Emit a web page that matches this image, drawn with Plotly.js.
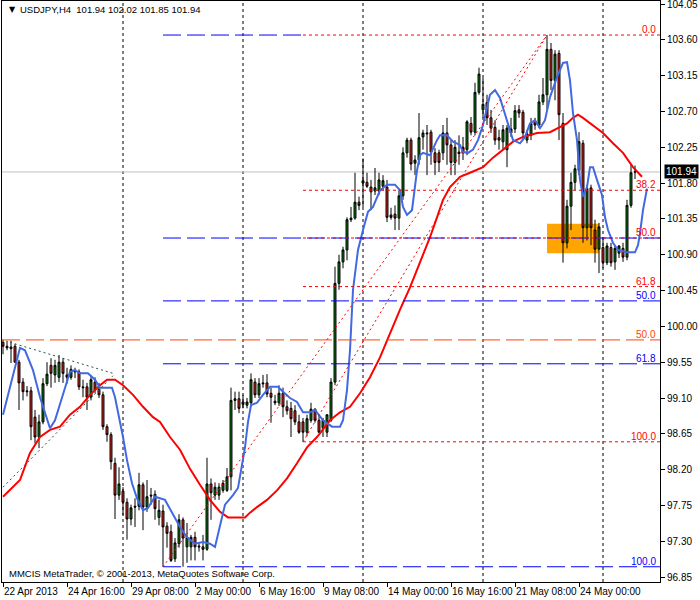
<!DOCTYPE html>
<html><head><meta charset="utf-8">
<script src="https://cdn.plot.ly/plotly-3.0.1.min.js"></script>
<style>html,body{margin:0;padding:0;background:#fff}</style>
</head><body><div id="chart" style="width:700px;height:600px"></div>
<script>
const symbolTitle = "USDJPY,H4  101.94 102.02 101.85 101.94";
const copyright = "MMCIS MetaTrader, \u00a9 2001-2013, MetaQuotes Software Corp.";
const tickBars = [0, 16, 32, 48, 64, 80, 96, 112, 128, 144];
const tickLabels = ["22 Apr 2013", "24 Apr 16:00", "29 Apr 08:00", "2 May 00:00", "6 May 16:00",
  "9 May 08:00", "14 May 00:00", "16 May 16:00", "21 May 08:00", "24 May 00:00"];
const gridBars = [30, 60, 90, 120, 150];

const open = [
99.80, 99.75, 99.74, 99.75, 99.55, 99.30, 99.19, 99.19, 98.86, 98.61,
98.80, 99.28, 99.51, 99.39, 99.36, 99.55, 99.39, 99.36, 99.44, 99.43,
99.24, 99.24, 99.11, 99.30, 99.21, 99.14, 98.74, 98.64, 98.28, 97.88,
97.93, 97.79, 97.58, 97.74, 97.74, 98.01, 97.73, 97.88, 97.89, 97.60,
97.68, 97.49, 97.42, 97.08, 97.27, 97.57, 97.23, 97.23, 97.35, 97.24,
97.23, 97.20, 98.02, 97.88, 97.88, 97.94, 97.94, 98.11, 99.09, 99.09,
99.05, 99.01, 99.04, 99.30, 99.14, 99.29, 99.29, 99.16, 99.06, 99.04,
99.16, 98.99, 98.97, 98.94, 98.80, 98.80, 98.67, 98.82, 98.96, 98.82,
98.72, 98.67, 98.82, 99.30, 100.54, 100.81, 100.96, 101.34, 101.36, 101.56,
101.80, 101.81, 101.75, 101.70, 101.70, 101.76, 101.75, 101.40, 101.41, 101.36,
101.64, 102.18, 102.34, 102.05, 102.09, 102.38, 102.43, 102.44, 102.18, 102.18,
102.18, 102.43, 102.28, 102.06, 102.19, 102.18, 102.22, 102.55, 102.44, 102.94,
102.72, 102.81, 102.62, 102.50, 102.37, 102.32, 102.22, 102.43, 102.48, 102.72,
102.69, 102.34, 102.40, 102.57, 102.53, 102.82, 102.91, 103.48, 103.09, 103.43,
102.55, 101.05, 101.51, 101.81, 101.96, 102.30, 101.24, 101.74, 101.21, 100.97,
100.99, 100.80, 100.99, 100.81, 100.92, 100.98, 100.87, 101.52, 101.94];
const high = [
99.83, 99.82, 99.82, 99.78, 99.58, 99.35, 99.25, 99.24, 98.95, 98.89,
99.35, 99.55, 99.60, 99.58, 99.64, 99.60, 99.48, 99.51, 99.48, 99.46,
99.33, 99.29, 99.38, 99.36, 99.29, 99.18, 98.77, 98.67, 98.35, 98.23,
97.98, 97.84, 97.76, 97.84, 98.16, 98.04, 98.07, 97.97, 97.94, 97.82,
97.76, 97.54, 97.51, 97.34, 97.64, 97.60, 97.53, 97.38, 97.42, 97.29,
97.38, 98.35, 98.09, 98.04, 98.03, 98.07, 98.22, 99.23, 99.18, 99.18,
99.14, 99.10, 99.41, 99.35, 99.35, 99.39, 99.40, 99.23, 99.14, 99.26,
99.23, 99.07, 99.05, 99.01, 98.89, 98.85, 98.89, 99.04, 98.97, 98.89,
98.85, 98.89, 99.35, 100.75, 100.90, 101.00, 101.37, 101.50, 101.93, 101.63,
102.11, 101.93, 101.84, 101.99, 101.93, 101.90, 101.84, 101.49, 101.52, 101.71,
102.25, 102.37, 102.37, 102.15, 102.68, 102.47, 102.53, 102.47, 102.24, 102.22,
102.53, 102.62, 102.34, 102.34, 102.40, 102.38, 102.59, 102.63, 103.06, 103.25,
103.12, 102.91, 102.72, 102.59, 102.47, 102.53, 102.53, 102.62, 102.78, 102.78,
102.72, 102.47, 102.62, 102.62, 102.91, 103.12, 103.66, 103.56, 103.47, 103.47,
102.68, 101.59, 101.93, 102.03, 102.44, 102.34, 101.78, 101.78, 101.34, 101.30,
101.12, 101.05, 101.05, 101.02, 101.02, 101.05, 101.59, 102.03, 102.02];
const low = [
99.65, 99.70, 99.54, 99.54, 98.95, 99.07, 99.12, 98.57, 98.53, 98.47,
98.77, 99.25, 99.23, 99.29, 99.30, 99.29, 99.28, 99.33, 99.35, 99.20,
99.11, 98.95, 99.07, 99.16, 99.10, 98.70, 98.55, 98.20, 97.58, 97.82,
97.63, 97.32, 97.50, 97.48, 97.69, 97.44, 97.67, 97.76, 97.57, 97.50,
96.98, 97.22, 97.04, 97.04, 97.22, 96.98, 97.03, 97.06, 97.06, 97.17,
97.06, 97.18, 97.57, 97.82, 97.82, 97.91, 97.92, 97.94, 98.95, 98.91,
98.97, 98.97, 98.99, 99.10, 99.10, 99.23, 99.11, 98.79, 99.01, 99.00,
98.86, 98.89, 98.61, 98.76, 98.65, 98.55, 98.62, 98.79, 98.79, 98.66,
98.61, 98.61, 98.80, 99.26, 100.46, 100.73, 100.83, 101.31, 101.34, 101.46,
101.50, 101.74, 101.46, 101.65, 101.65, 101.71, 101.31, 101.34, 101.21, 101.21,
101.59, 102.12, 101.96, 101.90, 102.03, 102.22, 101.90, 102.03, 101.90, 101.94,
102.09, 102.03, 101.90, 101.90, 102.03, 102.09, 102.15, 102.40, 102.40, 102.91,
102.62, 102.53, 102.43, 102.28, 102.22, 102.22, 102.00, 102.38, 102.43, 102.62,
102.34, 102.30, 102.34, 102.47, 102.49, 102.78, 102.72, 102.97, 102.84, 102.34,
100.80, 100.98, 101.21, 101.71, 101.90, 101.05, 101.08, 101.02, 100.80, 100.67,
100.73, 100.77, 100.75, 100.71, 100.86, 100.81, 100.83, 101.49, 101.85];
const close = [
99.75, 99.73, 99.72, 99.55, 99.29, 99.18, 99.18, 98.74, 98.61, 98.80,
99.28, 99.40, 99.41, 99.51, 99.55, 99.41, 99.36, 99.46, 99.43, 99.24,
99.23, 99.11, 99.33, 99.20, 99.14, 98.74, 98.64, 98.30, 97.88, 98.02,
97.79, 97.58, 97.72, 97.73, 98.01, 97.73, 97.86, 97.87, 97.71, 97.69,
97.48, 97.40, 97.06, 97.28, 97.57, 97.34, 97.35, 97.35, 97.23, 97.23,
97.20, 98.02, 97.91, 97.98, 97.98, 98.03, 98.11, 99.07, 99.07, 98.97,
99.02, 99.05, 99.33, 99.14, 99.28, 99.28, 99.15, 99.11, 99.04, 99.16,
98.99, 98.94, 98.84, 98.80, 98.67, 98.67, 98.84, 98.96, 98.82, 98.67,
98.82, 98.89, 99.30, 100.54, 100.81, 100.96, 101.34, 101.36, 101.56, 101.52,
101.83, 101.76, 101.69, 101.74, 101.84, 101.83, 101.37, 101.37, 101.36, 101.64,
102.18, 102.34, 102.04, 102.09, 102.37, 102.43, 102.42, 102.19, 102.06, 102.06,
102.43, 102.28, 102.06, 102.25, 102.17, 102.25, 102.57, 102.44, 102.94, 103.17,
102.79, 102.62, 102.49, 102.34, 102.34, 102.47, 102.49, 102.48, 102.71, 102.68,
102.43, 102.42, 102.55, 102.53, 102.82, 102.91, 103.48, 103.09, 103.42, 102.66,
101.05, 101.51, 101.81, 101.98, 102.32, 101.24, 101.73, 101.24, 100.97, 101.25,
100.80, 101.01, 100.80, 100.98, 101.01, 100.87, 101.52, 101.93, 101.94];

const blueMaX = [0, 4.25, 5.5, 7.5, 9.25, 11, 11.75, 13, 15, 16.75, 18, 19.25, 21.25, 23, 24.25, 27.25, 28, 29.25, 30, 31,
  32.25, 33.5, 35, 36.25, 38, 40.5, 41.75, 43, 44.25, 46, 48, 50, 51.75, 53, 54.25, 55.5, 57.5, 58.75, 59.75, 60.5,
  61.25, 62, 63.5, 65, 66.75, 68.75, 70, 71.75, 73.5, 75, 76.75, 78, 80, 82.25, 84.25, 85, 86, 86.75, 87.5, 88.75,
  90, 91.25, 92.5, 94.25, 96, 98, 99.25, 100, 101, 102.25, 103.5, 104.25, 105, 106.75, 108.5, 109.25, 111, 112.5, 114.25, 115,
  116.25, 117.5, 118.75, 120, 121.75, 123, 124.25, 126, 127.5, 129.25, 130.5, 131.75, 133, 134.25, 135.5, 136.75, 138.5, 140, 141, 141.75,
  142.5, 143.5, 144.25, 145, 146, 146.75, 147.5, 148.5, 149.75, 150.5, 151.25, 152.5, 153.75, 156, 158, 158.75, 159.25, 160, 161];
const blueMaY = [98.89, 99.73, 99.70, 99.45, 99.11, 98.85, 98.72, 98.82, 99.16, 99.43, 99.45, 99.41, 99.41, 99.33, 99.23, 99.23, 99.11, 98.82, 98.61, 98.32,
  98.03, 97.84, 97.69, 97.72, 97.86, 97.82, 97.71, 97.59, 97.48, 97.35, 97.27, 97.29, 97.27, 97.23, 97.48, 97.76, 97.88, 97.97, 98.26, 98.48,
  98.80, 99.01, 99.04, 99.14, 99.24, 99.24, 99.18, 99.10, 99.05, 98.92, 98.92, 98.95, 98.82, 98.74, 98.74, 98.82, 99.20, 99.70, 100.46, 100.96,
  101.21, 101.44, 101.50, 101.71, 101.78, 101.78, 101.71, 101.50, 101.40, 101.46, 101.96, 102.15, 102.18, 102.15, 102.34, 102.40, 102.40, 102.32, 102.28, 102.19,
  102.18, 102.22, 102.34, 102.53, 102.91, 102.97, 102.87, 102.59, 102.34, 102.30, 102.38, 102.55, 102.59, 102.49, 102.59, 102.88, 103.13, 103.31, 103.32, 103.09,
  102.68, 102.34, 101.84, 101.63, 101.75, 102.00, 102.00, 101.84, 101.65, 101.37, 101.21, 101.05, 100.96, 100.93, 100.93, 101.02, 101.17, 101.46, 101.73];
const redMaX = [0, 4.25, 6.75, 9.25, 11.75, 14.25, 16.75, 19.25, 21.75, 24.25, 26, 28, 30, 32.5, 35, 37.5, 39.25, 41.75, 44.25, 46.75,
  49.25, 51.75, 54.25, 56.25, 60.5, 61.75, 63.5, 66, 68.5, 71, 73.5, 76, 78.5, 81.75, 84.25, 86.75, 89.25, 91.75, 94.25, 96.75,
  99.25, 101.75, 104.25, 106.75, 108.5, 110, 111.75, 114.25, 116.75, 120, 122.5, 125, 127.5, 130, 133.5, 136.75, 139.25, 141, 142.5, 143.75,
  145, 147.5, 150, 152.5, 155, 157.5, 159.75];
const redMaY = [97.86, 98.07, 98.41, 98.61, 98.70, 98.74, 98.89, 98.99, 99.14, 99.26, 99.33, 99.33, 99.26, 99.14, 98.99, 98.86, 98.80, 98.61, 98.45, 98.21,
  98.01, 97.82, 97.67, 97.60, 97.60, 97.66, 97.73, 97.82, 97.94, 98.09, 98.28, 98.48, 98.61, 98.82, 98.92, 98.99, 99.16, 99.36, 99.61, 99.92,
  100.21, 100.49, 100.80, 101.12, 101.37, 101.59, 101.75, 101.88, 101.93, 102.00, 102.12, 102.22, 102.32, 102.38, 102.43, 102.44, 102.50, 102.55, 102.62, 102.66,
  102.62, 102.53, 102.43, 102.30, 102.18, 102.00, 101.88];

const blueFibLabels = ["0.0", "38.2", "50.0", "61.8", "100.0"];
const blueFibPrices = [103.66, 101.11, 100.32, 99.53, 96.98];
const blueFibShowLabel = [false, false, true, true, true];
const blueFibStartBar = 40;
const blueFibZeroEndBar = 75;
const redFibLabels = ["0.0", "38.2", "50.0", "61.8", "100.0"];
const redFibPrices = [103.66, 101.71, 101.11, 100.50, 98.55];
const redFibStartBar = 75;
const orangeFibLabel = "50.0";
const orangeFibPrice = 99.83;
const blueTrendBars = [40, 136], blueTrendPrices = [96.98, 103.66];
const redTrendBars = [75, 136], redTrendPrices = [98.55, 103.66];
const triUpperBars = [1.75, 27.5], triUpperPrices = [99.80, 99.41];
const triLowerBars = [0, 27.5], triLowerPrices = [97.98, 99.38];
const zoneBars = [136, 149], zonePrices = [100.92, 101.29];
const lastPrice = 101.94;

const xRange = [-0.25, 164.25];
const yRange = [96.7886, 104.0877];
const FONT = "Liberation Sans, Arial, sans-serif";
const TXT = 9.5;
const bars = open.map((_, i) => i);

const traces = [
  {type: "candlestick", x: bars, open: open, high: high, low: low, close: close,
   increasing: {fillcolor: "#0b7d0b", line: {color: "#000000", width: 1}},
   decreasing: {fillcolor: "#e8241a", line: {color: "#000000", width: 1}},
   whiskerwidth: 0, hoverinfo: "skip", showlegend: false},
  {type: "scatter", mode: "lines", x: redMaX, y: redMaY, line: {color: "#ff0000", width: 2}, hoverinfo: "skip", showlegend: false},
  {type: "scatter", mode: "lines", x: blueMaX, y: blueMaY, line: {color: "#4169e1", width: 2}, hoverinfo: "skip", showlegend: false}
];

const shapes = [];
gridBars.forEach(b => shapes.push({type: "line", xref: "x", yref: "paper", x0: b, x1: b, y0: 0, y1: 1,
  line: {color: "#000000", width: 1, dash: "3px,3px"}, layer: "below"}));
shapes.push({type: "rect", xref: "x", yref: "y", x0: zoneBars[0], x1: zoneBars[1], y0: zonePrices[0], y1: zonePrices[1],
  fillcolor: "#ffa500", line: {width: 0}, layer: "below"});
shapes.push({type: "line", xref: "x", yref: "y", x0: xRange[0], x1: xRange[1], y0: lastPrice, y1: lastPrice,
  line: {color: "#c0c0c0", width: 1}, layer: "below"});
shapes.push({type: "line", xref: "x", yref: "y", x0: xRange[0], x1: xRange[1], y0: orangeFibPrice, y1: orangeFibPrice,
  line: {color: "#ff4500", width: 1, dash: "18px,6px"}});
blueFibPrices.forEach((p, k) => shapes.push({type: "line", xref: "x", yref: "y",
  x0: blueFibStartBar, x1: k === 0 ? blueFibZeroEndBar : xRange[1], y0: p, y1: p,
  line: {color: "#0000ff", width: 1, dash: "18px,6px"}}));
redFibPrices.forEach(p => shapes.push({type: "line", xref: "x", yref: "y",
  x0: redFibStartBar, x1: xRange[1], y0: p, y1: p, line: {color: "#ff0000", width: 1, dash: "3px,3px"}}));
shapes.push({type: "line", xref: "x", yref: "y", x0: blueTrendBars[0], x1: blueTrendBars[1], y0: blueTrendPrices[0], y1: blueTrendPrices[1],
  line: {color: "#ff0000", width: 1, dash: "2px,3px"}});
shapes.push({type: "line", xref: "x", yref: "y", x0: redTrendBars[0], x1: redTrendBars[1], y0: redTrendPrices[0], y1: redTrendPrices[1],
  line: {color: "#ff0000", width: 1, dash: "2px,3px"}});
shapes.push({type: "line", xref: "x", yref: "y", x0: triUpperBars[0], x1: triUpperBars[1], y0: triUpperPrices[0], y1: triUpperPrices[1],
  line: {color: "#2f4f4f", width: 1, dash: "2px,3px"}});
shapes.push({type: "line", xref: "x", yref: "y", x0: triLowerBars[0], x1: triLowerBars[1], y0: triLowerPrices[0], y1: triLowerPrices[1],
  line: {color: "#2f4f4f", width: 1, dash: "2px,3px"}});

const labelX = 0.9955;
const annotations = [];
function fibLabel(text, price, color) {
  annotations.push({xref: "paper", yref: "y", x: labelX, y: price, text: text, showarrow: false,
    xanchor: "right", yanchor: "bottom", borderpad: 0, yshift: -1, font: {family: FONT, size: 10, color: color}});
}
fibLabel(orangeFibLabel, orangeFibPrice, "#ff4500");
blueFibPrices.forEach((p, k) => { if (blueFibShowLabel[k]) fibLabel(blueFibLabels[k], p, "#0000ff"); });
redFibPrices.forEach((p, k) => fibLabel(redFibLabels[k], p, "#ff0000"));
// x-axis labels, drawn to the right of each tick like MetaTrader
tickBars.forEach((b, k) => annotations.push({xref: "x", yref: "paper", x: b, y: 0, xanchor: "left", yanchor: "top",
  yshift: -3, xshift: 0, showarrow: false, borderpad: 0, text: tickLabels[k], font: {family: FONT, size: 10, color: "#000"}}));
annotations.push({xref: "paper", yref: "paper", x: 0.007, y: 0.986, xanchor: "left", yanchor: "middle", showarrow: false,
  text: "\u25bc", font: {family: "DejaVu Sans", size: 8, color: "#000"}});
annotations.push({xref: "paper", yref: "paper", x: 0.024, y: 0.986, xanchor: "left", yanchor: "middle", showarrow: false,
  text: symbolTitle, font: {family: FONT, size: TXT, color: "#000"}});
annotations.push({xref: "paper", yref: "paper", x: 0.007, y: 0.0145, xanchor: "left", yanchor: "middle", showarrow: false,
  text: copyright, font: {family: FONT, size: TXT, color: "#000"}});
annotations.push({xref: "paper", yref: "y", x: 1, y: lastPrice, xanchor: "left", yanchor: "middle", xshift: 4, showarrow: false,
  text: lastPrice.toFixed(2), bgcolor: "#000000", borderpad: 1, font: {family: FONT, size: 10, color: "#ffffff"}});

const layout = {
  width: 700, height: 600,
  margin: {l: 2, r: 40, t: 1, b: 18, pad: 0},
  paper_bgcolor: "#ffffff", plot_bgcolor: "#ffffff",
  font: {family: FONT, size: 10, color: "#000"},
  showlegend: false,
  xaxis: {range: xRange, tickmode: "array", tickvals: tickBars, ticktext: tickLabels, showticklabels: false,
    ticks: "outside", ticklen: 4,
    tickcolor: "#000", showgrid: false, zeroline: false, showline: true, mirror: true, linecolor: "#000", linewidth: 1,
    rangeslider: {visible: false}, automargin: false, fixedrange: true},
  yaxis: {range: yRange, side: "right", tick0: 96.85, dtick: 0.45, tickformat: ".2f", ticks: "outside", ticklen: 4,
    tickcolor: "#000", showgrid: false, zeroline: false, showline: true, mirror: true, linecolor: "#000", linewidth: 1,
    ticklabeloverflow: "allow", tickfont: {family: FONT, size: 10}, automargin: false, fixedrange: true},
  shapes: shapes,
  annotations: annotations
};
Plotly.newPlot("chart", traces, layout, {displayModeBar: false, staticPlot: true});
</script>
</body></html>
